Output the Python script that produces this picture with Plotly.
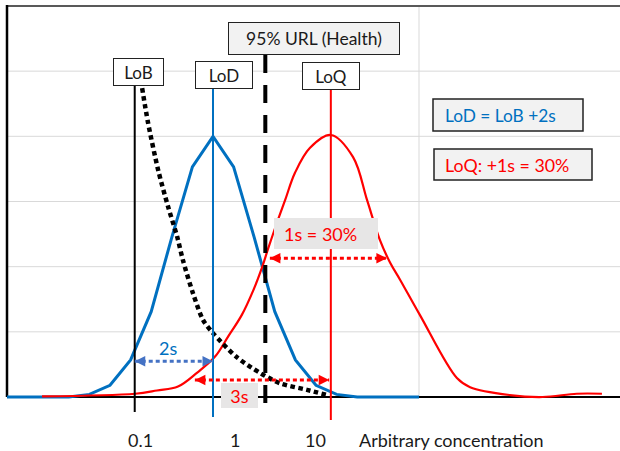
import plotly.graph_objects as go

# ---------------- data (arbitrary units) ----------------
# LoD distribution (blue, straight segments)
BLUE_X = [0, 1.5, 2.0, 2.5, 3.0, 3.5, 4.0, 4.5, 5.0, 5.5, 6.0, 6.5, 7.0, 7.5, 8.0, 8.5, 10.0]
BLUE_Y = [0, 0, 0.04, 0.18, 0.57, 1.31, 2.45, 3.53, 4.0, 3.53, 2.45, 1.31, 0.57, 0.18, 0.04, 0, 0]

# LoQ distribution (red, smoothed)
RED_X = [0.85, 3.11, 3.64, 4.15, 4.61, 5.05, 5.37, 5.70, 5.98, 6.18, 6.34, 6.55, 6.75,
         6.99, 7.35, 7.86, 8.40, 8.74, 9.05, 9.30, 9.54, 10.02, 10.92, 11.24, 12.2,
         13.0, 13.83, 14.44]
RED_Y = [0.01, 0.05, 0.10, 0.16, 0.37, 0.62, 0.93, 1.26, 1.64, 1.97, 2.28, 2.67, 3.02,
         3.44, 3.82, 4.02, 3.68, 3.02, 2.41, 2.06, 1.80, 1.26, 0.29, 0.15, 0.03,
         0.0, 0.05, 0.05]

# LoB distribution (black dotted, smoothed)
BLANK_X = [3.28, 3.42, 3.67, 3.91, 4.13, 4.27, 4.51, 4.76, 5.0, 5.58, 6.14, 6.63, 7.28, 7.77]
BLANK_Y = [4.74, 4.22, 3.48, 2.92, 2.46, 2.10, 1.60, 1.18, 0.98, 0.61, 0.37, 0.21, 0.11, 0.03]

# limits
LOB_X = 3.1
LOD_X = 5.0
URL_X = 6.27
LOQ_X = 7.86

# spread arrows: (x_start, x_end, y)
ARROW_2S = (LOB_X, LOD_X, 0.55)
ARROW_3S = (4.56, 7.82, 0.26)
ARROW_1S = (6.38, 9.22, 2.13)

TICK_LABELS = ["0.1", "1", "10"]
AXIS_TITLE = "Arbitrary concentration"

# ---------------- geometry helpers ----------------
W, H = 620, 451
PXU_X = 41.2     # pixels per x unit
PXU_Y = 65.17    # pixels per y unit
X0_PX, Y0_PX = 7, 397  # pixel position of data origin
XR = [-X0_PX / PXU_X, (W - X0_PX) / PXU_X]
YR = [-(H - Y0_PX) / PXU_Y, Y0_PX / PXU_Y]


def px2x(px):
    return (px - X0_PX) / PXU_X


def py2y(py):
    return (Y0_PX - py) / PXU_Y


FONT = "Lato, 'Open Sans', sans-serif"
BLUE = "#0070C0"
RED = "#FF0000"
ARROW_BLUE = "#4472C4"
TXT = "#1a1a1a"

fig = go.Figure()

fig.add_trace(go.Scatter(x=BLUE_X, y=BLUE_Y, mode="lines",
                         line=dict(color=BLUE, width=3), hoverinfo="skip"))
fig.add_trace(go.Scatter(x=RED_X, y=RED_Y, mode="lines",
                         line=dict(color=RED, width=2.2, shape="spline", smoothing=1.0),
                         hoverinfo="skip"))
fig.add_trace(go.Scatter(x=BLANK_X, y=BLANK_Y, mode="lines",
                         line=dict(color="black", width=4.5, dash="4.5px,3.5px",
                                   shape="spline", smoothing=0.8),
                         hoverinfo="skip"))

shapes = []
# horizontal gridlines
for gy in [1, 2, 3, 4, 5]:
    shapes.append(dict(type="line", xref="x", yref="y", x0=0, x1=XR[1], y0=gy, y1=gy,
                       line=dict(color="#D9D9D9", width=1), layer="below"))
# vertical gridline
shapes.append(dict(type="line", xref="x", yref="y", x0=10, x1=10, y0=0, y1=6,
                   line=dict(color="#D9D9D9", width=1), layer="below"))
# top border
shapes.append(dict(type="line", xref="x", yref="y", x0=0, x1=XR[1], y0=6, y1=6,
                   line=dict(color="#595959", width=2), layer="below"))
# left axis
shapes.append(dict(type="line", xref="x", yref="y", x0=0, x1=0, y0=0, y1=6.015,
                   line=dict(color="black", width=2.5), layer="below"))
# baseline
shapes.append(dict(type="line", xref="x", yref="y", x0=0, x1=XR[1], y0=0, y1=0,
                   line=dict(color="black", width=2), layer="below"))

# vertical limit lines
shapes.append(dict(type="line", xref="x", yref="y", x0=LOB_X, x1=LOB_X,
                   y0=py2y(86), y1=py2y(412), line=dict(color="black", width=2)))
shapes.append(dict(type="line", xref="x", yref="y", x0=LOD_X, x1=LOD_X,
                   y0=py2y(88), y1=py2y(417), line=dict(color=BLUE, width=2)))
shapes.append(dict(type="line", xref="x", yref="y", x0=URL_X, x1=URL_X,
                   y0=py2y(55), y1=py2y(406),
                   line=dict(color="black", width=4, dash="18px,12px")))
shapes.append(dict(type="line", xref="x", yref="y", x0=LOQ_X, x1=LOQ_X,
                   y0=py2y(90), y1=py2y(420), line=dict(color=RED, width=2)))

annotations = []


def dotted_arrow(spec, color):
    xa, xb, ya = spec
    shapes.append(dict(type="line", xref="x", yref="y", x0=xa, x1=xb, y0=ya, y1=ya,
                       line=dict(color=color, width=3, dash="4px,3px")))
    for tip, off in [(xa, 10), (xb, -10)]:
        annotations.append(dict(x=tip, y=ya, xref="x", yref="y", ax=off, ay=0,
                                text="", showarrow=True, arrowhead=2, arrowsize=1.05,
                                arrowwidth=2, arrowcolor=color, standoff=0))


dotted_arrow(ARROW_2S, ARROW_BLUE)
dotted_arrow(ARROW_3S, RED)
dotted_arrow(ARROW_1S, RED)


def box_label(text, l, t, r, b, bg, border, color, size=17):
    annotations.append(dict(x=px2x((l + r) / 2), y=py2y((t + b) / 2), xref="x", yref="y",
                            text=text, showarrow=False,
                            width=(r - l) - (2 if border else 0),
                            height=(b - t) - (2 if border else 0),
                            bgcolor=bg, bordercolor="#222222" if border else bg,
                            borderwidth=1 if border else 0, borderpad=0,
                            font=dict(family=FONT, size=size, color=color),
                            xanchor="center", yanchor="middle"))


def left_box(text, l, t, r, b, bg, border, color, inset, size=17.5):
    shapes.append(dict(type="rect", xref="x", yref="y", x0=px2x(l), x1=px2x(r),
                       y0=py2y(b), y1=py2y(t), fillcolor=bg,
                       line=dict(color="#222222", width=1.5) if border else dict(width=0)))
    annotations.append(dict(x=px2x(l + inset), y=py2y((t + b) / 2), xref="x", yref="y",
                            text=text, showarrow=False,
                            font=dict(family=FONT, size=size, color=color),
                            xanchor="left", yanchor="middle"))


box_label("LoB", 113, 58, 164, 86, "white", True, TXT)
box_label("LoD", 195, 61, 253, 89, "white", True, TXT)
box_label("LoQ", 302, 62, 360, 90, "white", True, TXT)
box_label("95% URL (Health)", 228, 22, 400, 55, "#F2F2F2", True, TXT, size=17.5)
box_label("3s", 221, 383, 258, 408, "#E7E6E6", False, RED, size=18)

left_box("LoD = LoB +2s", 433, 99, 583, 131, "#F2F2F2", True, BLUE, 10, size=17.3)
left_box("LoQ: +1s = 30%", 434, 149, 592, 180, "#F2F2F2", True, RED, 9, size=17.8)
left_box("1s = 30%", 274, 218, 378, 249, "#E7E6E6", False, RED, 8, size=18)

annotations.append(dict(x=px2x(168), y=py2y(348), xref="x", yref="y", text="2s",
                        showarrow=False, font=dict(family=FONT, size=18, color=BLUE)))

for lbl, pxc in zip(TICK_LABELS, [140, 235, 315]):
    annotations.append(dict(x=px2x(pxc), y=py2y(440), xref="x", yref="y", text=lbl,
                            showarrow=False, font=dict(family=FONT, size=18, color=TXT)))
annotations.append(dict(x=px2x(451), y=py2y(440), xref="x", yref="y", text=AXIS_TITLE,
                        showarrow=False, font=dict(family=FONT, size=18, color=TXT)))

fig.update_layout(
    width=W, height=H,
    margin=dict(l=0, r=0, t=0, b=0),
    paper_bgcolor="white", plot_bgcolor="white",
    showlegend=False, hovermode=False,
    xaxis=dict(range=XR, visible=False, fixedrange=True),
    yaxis=dict(range=YR, visible=False, fixedrange=True),
    shapes=shapes, annotations=annotations,
)

fig.write_html("out.html", config={"displayModeBar": False})

# remove the default page margin so the figure sits at the window's top-left corner
with open("out.html", encoding="utf-8") as f:
    html = f.read()
html = html.replace("<head>", "<head><style>html,body{margin:0;padding:0;overflow:hidden;}</style>", 1)
with open("out.html", "w", encoding="utf-8") as f:
    f.write(html)
